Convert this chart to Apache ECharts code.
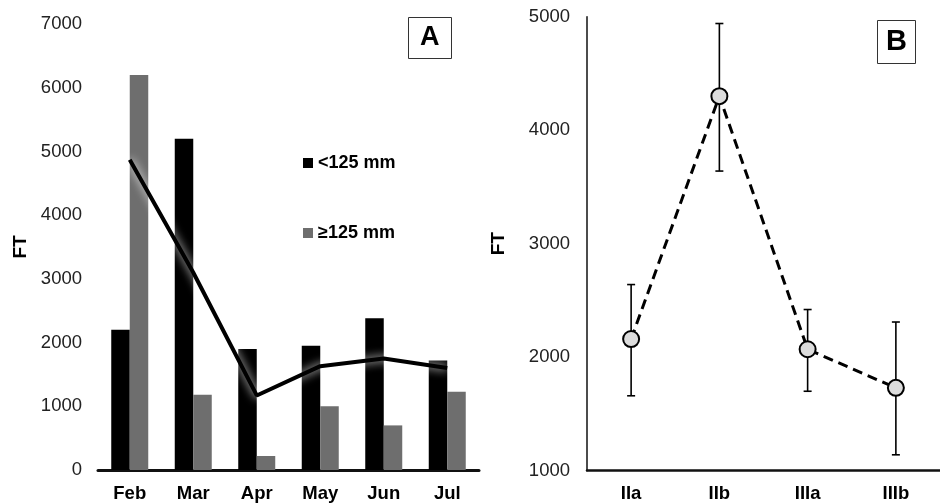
<!DOCTYPE html>
<html>
<head>
<meta charset="utf-8">
<script src="https://cdn.jsdelivr.net/npm/echarts@6/dist/echarts.min.js"></script>
<style>
html,body{margin:0;padding:0;background:#fff;}
#c{width:940px;height:504px;}
</style>
</head>
<body>
<div id="c"></div>
<script>
// Panel A data
const months = ['Feb', 'Mar', 'Apr', 'May', 'Jun', 'Jul'];
const small = [2200, 5200, 1900, 1950, 2380, 1720];     // <125 mm
const large = [6200, 1180, 220, 1000, 700, 1230];       // ≥125 mm
const totalLine = [4870, 3100, 1170, 1630, 1750, 1600];
const ticksA = [0, 1000, 2000, 3000, 4000, 5000, 6000, 7000];

// Panel B data
const stages = ['IIa', 'IIb', 'IIIa', 'IIIb'];
const stageMean = [2160, 4300, 2070, 1730];
const stageLow = [1660, 3640, 1700, 1140];
const stageHigh = [2640, 4940, 2420, 2310];
const ticksB = [1000, 2000, 3000, 4000, 5000];

const errData = stages.map((s, i) => [i, stageLow[i], stageHigh[i]]);

const chart = echarts.init(document.getElementById('c'), null, {renderer: 'canvas'});
const font = 'Liberation Sans, Arial, sans-serif';

chart.setOption({
  animation: false,
  backgroundColor: '#fff',
  textStyle: {fontFamily: font},
  title: [
    {text: 'A', left: 408, top: 17, borderColor: '#333', borderWidth: 1,
     padding: [7, 12, 7, 12],
     textStyle: {fontSize: 27, fontWeight: 'bold', color: '#000', fontFamily: font, lineHeight: 28}},
    {text: 'B', left: 877, top: 21, borderColor: '#333', borderWidth: 1,
     padding: [7, 9, 7, 9],
     textStyle: {fontSize: 29, fontWeight: 'bold', color: '#000', fontFamily: font, lineHeight: 28}}
  ],
  legend: {
    data: ['<125 mm', '≥125 mm'],
    orient: 'vertical',
    left: 303, top: 154, padding: 0,
    itemWidth: 10, itemHeight: 10, itemGap: 52,
    icon: 'rect',
    textStyle: {fontSize: 18, fontWeight: 'bold', color: '#000', fontFamily: font, padding: [0, 0, 0, 0]}
  },
  grid: [
    {left: 98, width: 381, top: 24, height: 446},
    {left: 587, width: 366, top: 16.7, height: 454}
  ],
  xAxis: [
    {type: 'category', gridIndex: 0, data: months,
     axisLine: {lineStyle: {color: '#111', width: 3}},
     axisTick: {show: false},
     axisLabel: {fontSize: 18.5, fontWeight: 'bold', color: '#000', margin: 14}},
    {type: 'category', gridIndex: 1, data: stages,
     axisLine: {lineStyle: {color: '#111', width: 2.5}},
     axisTick: {show: false},
     axisLabel: {fontSize: 18.5, fontWeight: 'bold', color: '#000', margin: 14}}
  ],
  yAxis: [
    {type: 'value', gridIndex: 0, min: 0, max: 7000, interval: 1000,
     name: 'FT', nameLocation: 'middle', nameGap: 68, nameRotate: 90,
     nameTextStyle: {fontSize: 19, fontWeight: 'bold', color: '#000'},
     axisLine: {show: false}, axisTick: {show: false}, splitLine: {show: false},
     axisLabel: {fontSize: 18.5, color: '#222', margin: 16,
       formatter: v => ticksA.includes(v) ? String(v) : ''}},
    {type: 'value', gridIndex: 1, min: 1000, max: 5000, interval: 1000,
     name: 'FT', nameLocation: 'middle', nameGap: 79, nameRotate: 90,
     nameTextStyle: {fontSize: 19, fontWeight: 'bold', color: '#000'},
     axisLine: {show: true, lineStyle: {color: '#111', width: 1.5}},
     axisTick: {show: false}, splitLine: {show: false},
     axisLabel: {fontSize: 18.5, color: '#222', margin: 17,
       formatter: v => ticksB.includes(v) ? String(v) : ''}}
  ],
  series: [
    {name: '<125 mm', type: 'bar', xAxisIndex: 0, yAxisIndex: 0, data: small,
     barWidth: 18.5, barGap: '0%', itemStyle: {color: '#000'}},
    {name: '≥125 mm', type: 'bar', xAxisIndex: 0, yAxisIndex: 0, data: large,
     barWidth: 18.5, barGap: '0%', itemStyle: {color: '#6e6e6e'}},
    {name: 'total', type: 'line', xAxisIndex: 0, yAxisIndex: 0, data: totalLine,
     symbol: 'none', z: 5,
     lineStyle: {color: '#000', width: 4, shadowColor: 'rgba(255,255,255,0.95)', shadowBlur: 10}},
    {name: 'err', type: 'custom', xAxisIndex: 1, yAxisIndex: 1, data: errData, z: 2,
     encode: {x: 0, y: [1, 2]},
     renderItem: function (params, api) {
       const lo = api.coord([api.value(0), api.value(1)]);
       const hi = api.coord([api.value(0), api.value(2)]);
       const w = 4;
       const st = {stroke: '#000', lineWidth: 1.6};
       return {type: 'group', children: [
         {type: 'line', shape: {x1: lo[0], y1: lo[1], x2: hi[0], y2: hi[1]}, style: st},
         {type: 'line', shape: {x1: lo[0] - w, y1: lo[1], x2: lo[0] + w, y2: lo[1]}, style: st},
         {type: 'line', shape: {x1: hi[0] - w, y1: hi[1], x2: hi[0] + w, y2: hi[1]}, style: st}
       ]};
     }},
    {name: 'mean', type: 'line', xAxisIndex: 1, yAxisIndex: 1, data: stageMean, z: 4,
     symbol: 'circle', symbolSize: 16,
     itemStyle: {color: '#dcdcdc', borderColor: '#000', borderWidth: 2},
     lineStyle: {color: '#000', width: 3, type: [10, 6]}}
  ]
});
</script>
</body>
</html>
